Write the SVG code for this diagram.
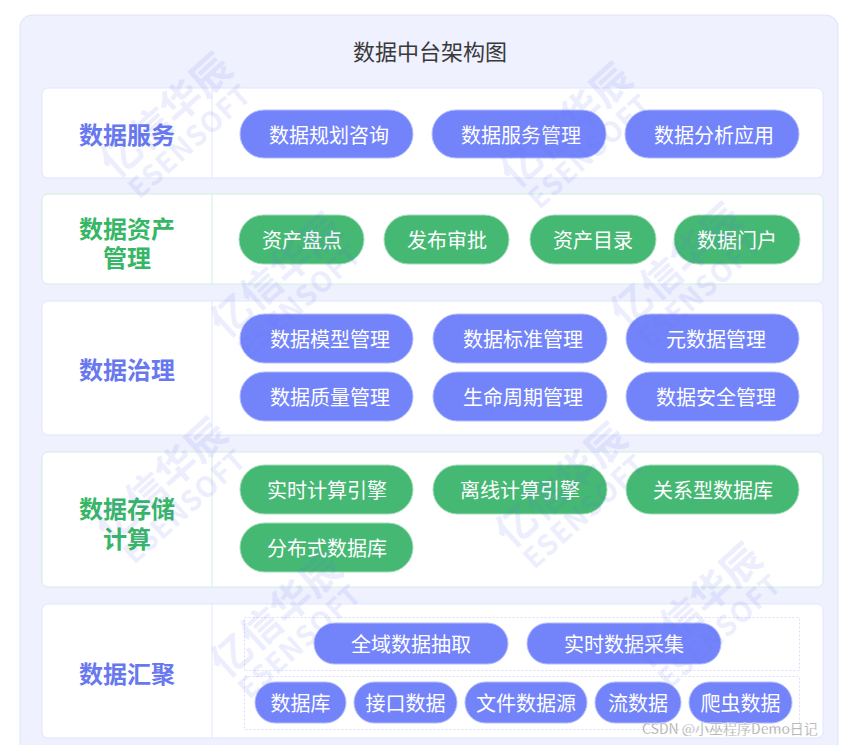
<svg xmlns="http://www.w3.org/2000/svg" width="843" height="745" viewBox="0 0 843 745">
<style>
text{font-family:"Noto Sans CJK SC","Noto Sans",sans-serif}
.title{font-size:22px;fill:#3a3a3a;text-anchor:middle;dominant-baseline:central}
.row-b{fill:#fff;stroke:#e1e5fc;stroke-width:1}
.row-g{fill:#fff;stroke:#d2efdc;stroke-width:1}
.div-b{stroke:#e1e5fc;stroke-width:1}
.div-g{stroke:#d2efdc;stroke-width:1}
.lab-b{font-size:24px;font-weight:bold;fill:#6878ef;text-anchor:middle;dominant-baseline:central}
.lab-g{font-size:24px;font-weight:bold;fill:#38b667;text-anchor:middle;dominant-baseline:central}
.pb{fill:#7384fb;stroke:#b3bdfb;stroke-width:1}
.pg{fill:#45b973;stroke:#a5dcbb;stroke-width:1}
.pt{font-size:20px;fill:#fff;text-anchor:middle;dominant-baseline:central}
.dash{fill:none;stroke:#d9ddf8;stroke-width:1;stroke-dasharray:2 2}
.wm{fill:#5a6cf0;opacity:0.11;font-weight:bold;text-anchor:middle;dominant-baseline:central}
</style>
<rect x="20" y="15" width="818" height="740" rx="12" fill="#eff1fe" stroke="#dfe3fb"/>
<text class="title" x="430" y="50">数据中台架构图</text>

<g id="row-service">
<rect class="row-b" x="42" y="88" width="781" height="90" rx="6"/>
<line class="div-b" x1="212" y1="88" x2="212" y2="178"/>
<text class="lab-b" x="127" y="133">数据服务</text>
</g>
<g id="n-plan"><rect class="pb" x="240" y="110" width="173" height="48" rx="24"/><text class="pt" x="329" y="134">数据规划咨询</text></g>
<g id="n-svcmgmt"><rect class="pb" x="432" y="110" width="174" height="48" rx="24"/><text class="pt" x="521" y="134">数据服务管理</text></g>
<g id="n-analysis"><rect class="pb" x="625" y="110" width="174" height="48" rx="24"/><text class="pt" x="714" y="134">数据分析应用</text></g>

<g id="row-asset">
<rect class="row-g" x="42" y="194" width="781" height="90" rx="6"/>
<line class="div-g" x1="212" y1="194" x2="212" y2="284"/>
<text class="lab-g" x="127" y="227">数据资产<tspan x="127" dy="29">管理</tspan></text>
</g>
<g id="n-inventory"><rect class="pg" x="239" y="215" width="125" height="49" rx="24.5"/><text class="pt" x="302" y="239.5">资产盘点</text></g>
<g id="n-approve"><rect class="pg" x="384" y="215" width="125" height="49" rx="24.5"/><text class="pt" x="447" y="239.5">发布审批</text></g>
<g id="n-catalog"><rect class="pg" x="530" y="215" width="126" height="49" rx="24.5"/><text class="pt" x="593" y="239.5">资产目录</text></g>
<g id="n-portal"><rect class="pg" x="674" y="215" width="126" height="49" rx="24.5"/><text class="pt" x="737" y="239.5">数据门户</text></g>

<g id="row-gov">
<rect class="row-b" x="42" y="301" width="781" height="134" rx="6"/>
<line class="div-b" x1="212" y1="301" x2="212" y2="435"/>
<text class="lab-b" x="127" y="368">数据治理</text>
</g>
<g id="n-model"><rect class="pb" x="240" y="314" width="173" height="49" rx="24.5"/><text class="pt" x="330" y="338.5">数据模型管理</text></g>
<g id="n-std"><rect class="pb" x="433" y="314" width="174" height="49" rx="24.5"/><text class="pt" x="523" y="338.5">数据标准管理</text></g>
<g id="n-meta"><rect class="pb" x="626" y="314" width="173" height="49" rx="24.5"/><text class="pt" x="716" y="338.5">元数据管理</text></g>
<g id="n-quality"><rect class="pb" x="240" y="372" width="173" height="49" rx="24.5"/><text class="pt" x="330" y="396.5">数据质量管理</text></g>
<g id="n-life"><rect class="pb" x="433" y="372" width="174" height="49" rx="24.5"/><text class="pt" x="523" y="396.5">生命周期管理</text></g>
<g id="n-security"><rect class="pb" x="626" y="372" width="173" height="49" rx="24.5"/><text class="pt" x="716" y="396.5">数据安全管理</text></g>

<g id="row-storage">
<rect class="row-g" x="42" y="452" width="781" height="135" rx="6"/>
<line class="div-g" x1="212" y1="452" x2="212" y2="587"/>
<text class="lab-g" x="127" y="507">数据存储<tspan x="127" dy="30">计算</tspan></text>
</g>
<g id="n-rt-engine"><rect class="pg" x="240" y="465" width="173" height="49" rx="24.5"/><text class="pt" x="327" y="489.5">实时计算引擎</text></g>
<g id="n-off-engine"><rect class="pg" x="433" y="465" width="174" height="49" rx="24.5"/><text class="pt" x="520" y="489.5">离线计算引擎</text></g>
<g id="n-rdb"><rect class="pg" x="626" y="465" width="173" height="49" rx="24.5"/><text class="pt" x="713" y="489.5">关系型数据库</text></g>
<g id="n-ddb"><rect class="pg" x="240" y="523" width="173" height="49" rx="24.5"/><text class="pt" x="327" y="547.5">分布式数据库</text></g>

<g id="row-collect">
<rect class="row-b" x="42" y="604" width="781" height="134" rx="6"/>
<line class="div-b" x1="212" y1="604" x2="212" y2="738"/>
<text class="lab-b" x="127" y="672">数据汇聚</text>
<rect class="dash" x="244.5" y="617.5" width="555" height="53"/>
<rect class="dash" x="244.5" y="676.5" width="555" height="53"/>
</g>
<g id="n-extract"><rect class="pb" x="314" y="623" width="194" height="41" rx="20.5"/><text class="pt" x="411" y="643.5">全域数据抽取</text></g>
<g id="n-rtcollect"><rect class="pb" x="527" y="623" width="194" height="41" rx="20.5"/><text class="pt" x="624" y="643.5">实时数据采集</text></g>
<g id="n-db"><rect class="pb" x="255" y="682" width="91" height="41" rx="20.5"/><text class="pt" x="300.5" y="702.5">数据库</text></g>
<g id="n-api"><rect class="pb" x="354" y="682" width="103" height="41" rx="20.5"/><text class="pt" x="405.5" y="702.5">接口数据</text></g>
<g id="n-file"><rect class="pb" x="465" y="682" width="122" height="41" rx="20.5"/><text class="pt" x="526" y="702.5">文件数据源</text></g>
<g id="n-stream"><rect class="pb" x="595" y="682" width="86" height="41" rx="20.5"/><text class="pt" x="638" y="702.5">流数据</text></g>
<g id="n-crawler"><rect class="pb" x="689" y="682" width="103" height="41" rx="20.5"/><text class="pt" x="740.5" y="702.5">爬虫数据</text></g>

<g id="connectors"></g>

<g id="watermarks">
<g transform="translate(175,125) rotate(-42)"><text class="wm" font-size="40" y="-16">亿信华辰</text><text class="wm" font-size="28" y="20" letter-spacing="1">ESENSOFT</text></g>
<g transform="translate(575,135) rotate(-42)"><text class="wm" font-size="40" y="-16">亿信华辰</text><text class="wm" font-size="28" y="20" letter-spacing="1">ESENSOFT</text></g>
<g transform="translate(285,285) rotate(-42)"><text class="wm" font-size="40" y="-16">亿信华辰</text><text class="wm" font-size="28" y="20" letter-spacing="1">ESENSOFT</text></g>
<g transform="translate(685,275) rotate(-42)"><text class="wm" font-size="40" y="-16">亿信华辰</text><text class="wm" font-size="28" y="20" letter-spacing="1">ESENSOFT</text></g>
<g transform="translate(170,490) rotate(-42)"><text class="wm" font-size="40" y="-16">亿信华辰</text><text class="wm" font-size="28" y="20" letter-spacing="1">ESENSOFT</text></g>
<g transform="translate(570,495) rotate(-42)"><text class="wm" font-size="40" y="-16">亿信华辰</text><text class="wm" font-size="28" y="20" letter-spacing="1">ESENSOFT</text></g>
<g transform="translate(285,625) rotate(-42)"><text class="wm" font-size="40" y="-16">亿信华辰</text><text class="wm" font-size="28" y="20" letter-spacing="1">ESENSOFT</text></g>
<g transform="translate(705,615) rotate(-42)"><text class="wm" font-size="40" y="-16">亿信华辰</text><text class="wm" font-size="28" y="20" letter-spacing="1">ESENSOFT</text></g>
</g>

<text x="642" y="734" font-size="14" fill="#9c9c9c" stroke="#ffffff" stroke-width="0.3">CSDN @小巫程序Demo日记</text>
</svg>
